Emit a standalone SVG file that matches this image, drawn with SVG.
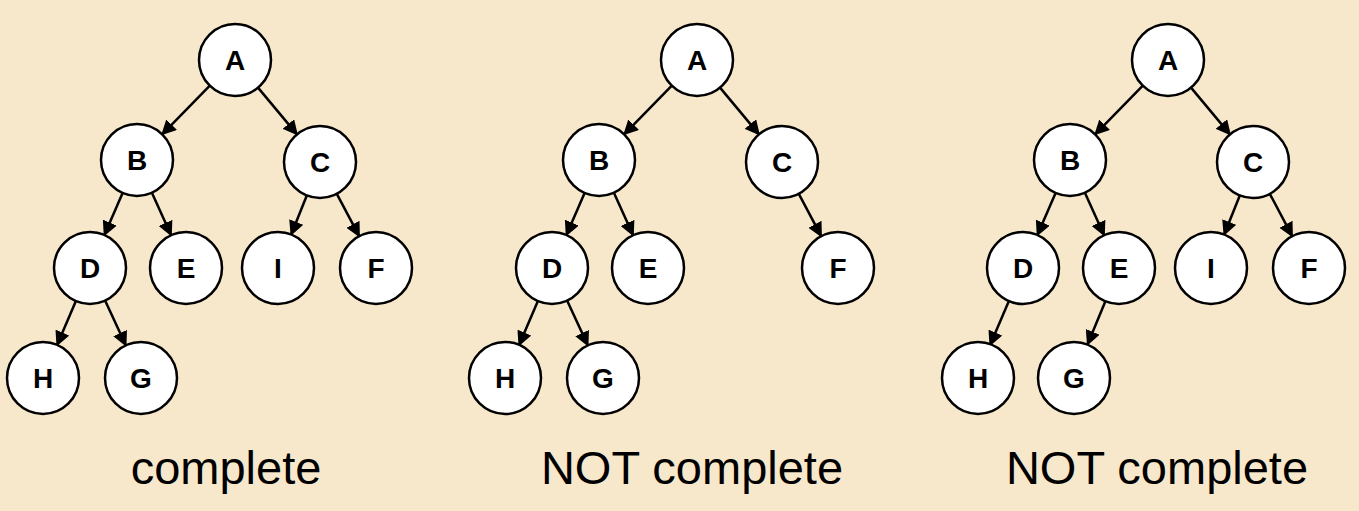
<svg xmlns="http://www.w3.org/2000/svg" width="1359" height="511" viewBox="0 0 1359 511">
<style>
.n circle{fill:#fff;stroke:#000;stroke-width:2.5}
.n text{font-family:"Liberation Sans",Arial,sans-serif;font-weight:bold;font-size:28px;text-anchor:middle;dominant-baseline:central}
.e line{stroke:#000;stroke-width:2.5;marker-end:url(#ah)}
.cap{font-family:"Liberation Sans",Arial,sans-serif;font-size:47px;text-anchor:middle}
</style>
<defs>
<marker id="ah" viewBox="0 0 10 10" refX="9" refY="5" markerWidth="6" markerHeight="6" orient="auto" markerUnits="strokeWidth"><path d="M0,0L10,5L0,10z"/></marker>
</defs>
<rect width="1359" height="511" fill="#f8e8cb"/>
<g id="connectors">
<g class="e">
<line x1="209.8" y1="85.7" x2="162.2" y2="134.3"/><line x1="258" y1="87.6" x2="297" y2="134.4"/>
<line x1="122.6" y1="193" x2="104.4" y2="235"/><line x1="151.9" y1="192.8" x2="171.1" y2="235.2"/>
<line x1="306.8" y1="195.5" x2="291.2" y2="234.5"/><line x1="336.8" y1="193.8" x2="359.2" y2="236.2"/>
<line x1="75.9" y1="301.1" x2="57.1" y2="345"/><line x1="105.2" y1="300.7" x2="125.8" y2="345.3"/>
</g>
<g class="e" transform="translate(462,0)">
<line x1="209.8" y1="85.7" x2="162.2" y2="134.3"/><line x1="258" y1="87.6" x2="297" y2="134.4"/>
<line x1="122.6" y1="193" x2="104.4" y2="235"/><line x1="151.9" y1="192.8" x2="171.1" y2="235.2"/>
<line x1="336.8" y1="193.8" x2="359.2" y2="236.2"/>
<line x1="75.9" y1="301.1" x2="57.1" y2="345"/><line x1="105.2" y1="300.7" x2="125.8" y2="345.3"/>
</g>
<g class="e" transform="translate(933,0)">
<line x1="209.8" y1="85.7" x2="162.2" y2="134.3"/><line x1="258" y1="87.6" x2="297" y2="134.4"/>
<line x1="122.6" y1="193" x2="104.4" y2="235"/><line x1="151.9" y1="192.8" x2="171.1" y2="235.2"/>
<line x1="306.8" y1="195.5" x2="291.2" y2="234.5"/><line x1="336.8" y1="193.8" x2="359.2" y2="236.2"/>
<line x1="75.9" y1="301.1" x2="57.1" y2="345"/><line x1="172.4" y1="301.3" x2="154.6" y2="344.3"/>
</g>
</g>
<g transform="translate(0,0)">
<g id="t1A" class="n"><circle cx="235" cy="60" r="36"/><text x="235" y="60">A</text></g>
<g id="t1B" class="n"><circle cx="137" cy="160" r="36"/><text x="137" y="160">B</text></g>
<g id="t1C" class="n"><circle cx="320" cy="162" r="36"/><text x="320" y="162">C</text></g>
<g id="t1D" class="n"><circle cx="90" cy="268" r="36"/><text x="90" y="268">D</text></g>
<g id="t1E" class="n"><circle cx="186" cy="268" r="36"/><text x="186" y="268">E</text></g>
<g id="t1I" class="n"><circle cx="278" cy="268" r="36"/><text x="278" y="268">I</text></g>
<g id="t1F" class="n"><circle cx="376" cy="268" r="36"/><text x="376" y="268">F</text></g>
<g id="t1H" class="n"><circle cx="43" cy="378" r="36"/><text x="43" y="378">H</text></g>
<g id="t1G" class="n"><circle cx="141" cy="378" r="36"/><text x="141" y="378">G</text></g>
</g>
<g transform="translate(462,0)">
<g id="t2A" class="n"><circle cx="235" cy="60" r="36"/><text x="235" y="60">A</text></g>
<g id="t2B" class="n"><circle cx="137" cy="160" r="36"/><text x="137" y="160">B</text></g>
<g id="t2C" class="n"><circle cx="320" cy="162" r="36"/><text x="320" y="162">C</text></g>
<g id="t2D" class="n"><circle cx="90" cy="268" r="36"/><text x="90" y="268">D</text></g>
<g id="t2E" class="n"><circle cx="186" cy="268" r="36"/><text x="186" y="268">E</text></g>
<g id="t2F" class="n"><circle cx="376" cy="268" r="36"/><text x="376" y="268">F</text></g>
<g id="t2H" class="n"><circle cx="43" cy="378" r="36"/><text x="43" y="378">H</text></g>
<g id="t2G" class="n"><circle cx="141" cy="378" r="36"/><text x="141" y="378">G</text></g>
</g>
<g transform="translate(933,0)">
<g id="t3A" class="n"><circle cx="235" cy="60" r="36"/><text x="235" y="60">A</text></g>
<g id="t3B" class="n"><circle cx="137" cy="160" r="36"/><text x="137" y="160">B</text></g>
<g id="t3C" class="n"><circle cx="320" cy="162" r="36"/><text x="320" y="162">C</text></g>
<g id="t3D" class="n"><circle cx="90" cy="268" r="36"/><text x="90" y="268">D</text></g>
<g id="t3E" class="n"><circle cx="186" cy="268" r="36"/><text x="186" y="268">E</text></g>
<g id="t3I" class="n"><circle cx="278" cy="268" r="36"/><text x="278" y="268">I</text></g>
<g id="t3F" class="n"><circle cx="376" cy="268" r="36"/><text x="376" y="268">F</text></g>
<g id="t3H" class="n"><circle cx="45" cy="378" r="36"/><text x="45" y="378">H</text></g>
<g id="t3G" class="n"><circle cx="141" cy="378" r="36"/><text x="141" y="378">G</text></g>
</g>
<text class="cap" x="226" y="484">complete</text>
<text class="cap" x="692" y="484">NOT complete</text>
<text class="cap" x="1157" y="484">NOT complete</text>
</svg>
